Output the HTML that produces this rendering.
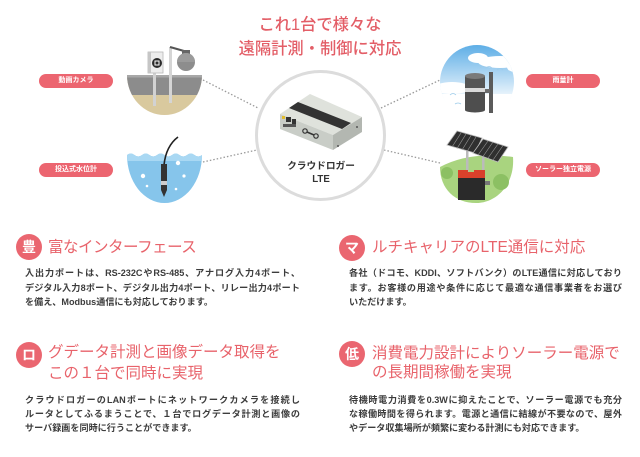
<!DOCTYPE html>
<html lang="ja"><head><meta charset="utf-8">
<style>
*{margin:0;padding:0;box-sizing:border-box}
body{width:640px;height:457px;background:#fff;position:relative;overflow:hidden;font-family:"Liberation Sans","Noto Sans CJK JP",sans-serif}
svg{position:absolute;left:0;top:0}
.t{position:absolute;left:0;width:640px;color:#e35e67;font-size:16.3px;line-height:22px;text-align:center;font-weight:500;white-space:nowrap}
.pill{position:absolute;width:74px;height:14px;border-radius:7px;background:#ec6570;color:#fff;font-size:7px;font-weight:bold;line-height:14px;text-align:center;white-space:nowrap}
.b{position:absolute;width:26px;height:26px;border-radius:50%;background:#ea6670;color:#fff;font-size:14px;font-weight:bold;line-height:26px;text-align:center}
.h{position:absolute;color:#e8636b;font-size:15.5px;line-height:20px;white-space:nowrap}
.p{position:absolute;color:#3c3c3c;font-size:9.1px;font-weight:bold;line-height:14px;height:14px}
.j{text-align:justify;text-align-last:justify}
.n{white-space:nowrap}
.cap{position:absolute;left:271px;width:100px;text-align:center;color:#333;font-size:9.7px;font-weight:bold;line-height:13px;white-space:nowrap}
</style></head><body>
<svg width="640" height="457" viewBox="0 0 640 457">
<defs>
<clipPath id="cc"><path d="M127,75H202A37.5,40 0 0 1 127,75Z"/></clipPath>
<clipPath id="wc"><path d="M127,155 Q130.75,152 134.5,155 T142,155 T149.5,155 T157,155 T164.5,155 T172,155 T179.5,155 T187,155 T194.5,155 T202,155 A37.5,48 0 0 1 127,155Z"/></clipPath>
<linearGradient id="sky" x1="0" y1="0" x2="0" y2="1"><stop offset="0" stop-color="#5eaee6"/><stop offset="0.5" stop-color="#c4e1f6"/><stop offset="0.78" stop-color="#fff"/></linearGradient>
<clipPath id="skc"><circle cx="477" cy="82" r="37"/></clipPath>
</defs>
<!-- dotted connectors -->
<g stroke="#9a9a9a" stroke-width="1.3" stroke-dasharray="1.5 2" fill="none">
<line x1="203" y1="80" x2="258" y2="108"/>
<line x1="203" y1="162" x2="257" y2="150"/>
<line x1="381" y1="108" x2="440" y2="80"/>
<line x1="384" y1="150" x2="440" y2="163"/>
</g>
<!-- center circle -->
<circle cx="320.5" cy="135.5" r="64" fill="#fff" stroke="#dcdcdc" stroke-width="3"/>
<!-- device -->
<polygon points="280,114 310,94 362,117 333,135" fill="#dfe2dc"/>
<polygon points="280,114 333,135 333,150 280,129" fill="#c9cdc7"/>
<polygon points="333,135 362,117 362,132 333,150" fill="#b3b7b1"/>
<polygon points="289,108 298,102 351,123 342,129" fill="#333"/>
<rect x="282" y="116" width="3" height="3" fill="#e2bd2e"/>
<rect x="286" y="117" width="5" height="5" fill="#333"/>
<rect x="292" y="119" width="4" height="5" fill="#333"/>
<rect x="283" y="124" width="13" height="3" fill="#555"/>
<circle cx="305" cy="131" r="2.2" fill="none" stroke="#333" stroke-width="1.2"/>
<line x1="307" y1="132" x2="314" y2="135" stroke="#333" stroke-width="1.5"/>
<circle cx="316" cy="136" r="2.2" fill="none" stroke="#333" stroke-width="1.2"/>
<circle cx="357" cy="127" r="1" fill="#555"/>
<circle cx="338" cy="146" r="1" fill="#555"/>
<!-- camera -->
<path d="M127,75H202A37.5,40 0 0 1 127,75Z" fill="#d9c99e"/>
<rect x="127" y="75" width="75" height="20" fill="#8c8c8c" clip-path="url(#cc)"/>
<rect x="127" y="75" width="75" height="2.5" fill="#a8a8a8"/>
<rect x="153" y="73" width="3" height="33" fill="#d2d2d2"/>
<rect x="148" y="52" width="15" height="21" fill="#ededed" stroke="#b8b8b8" stroke-width="0.8"/>
<rect x="148" y="52" width="3" height="21" fill="#c6c6c6"/>
<circle cx="157" cy="63" r="5" fill="#2b2b2b"/>
<rect x="155" y="61" width="4" height="4" fill="none" stroke="#fff" stroke-width="1"/>
<rect x="169" y="47" width="3" height="56" fill="#d5d5d5"/>
<line x1="170" y1="47" x2="184" y2="51" stroke="#555" stroke-width="2"/>
<rect x="182" y="50" width="8" height="4" fill="#666"/>
<circle cx="186" cy="62" r="9" fill="#8d8d8d"/>
<path d="M177,62 A9,9 0 0 1 195,62Z" fill="#9b9b9b"/>
<!-- water -->
<g clip-path="url(#wc)">
<rect x="120" y="148" width="90" height="60" fill="#86c5eb"/>
<rect x="120" y="148" width="90" height="13" fill="#a9d8f3"/>
</g>
<g fill="#fff">
<circle cx="143" cy="176" r="2.2"/><circle cx="178" cy="163" r="2.2"/><circle cx="184" cy="176" r="1.6"/><circle cx="147" cy="186" r="1.3"/><circle cx="176" cy="189" r="1.3"/>
</g>
<path d="M178,137 Q166,146 164,165" stroke="#222" stroke-width="1.6" fill="none"/>
<rect x="161" y="164" width="6" height="26" fill="#333"/>
<rect x="161" y="181" width="6" height="4" fill="#ccc"/>
<polygon points="161,190 167,190 164,197" fill="#333"/>
<!-- sky / rain gauge -->
<circle cx="477" cy="82" r="37" fill="url(#sky)"/>
<g clip-path="url(#skc)" fill="#fff">
<ellipse cx="500" cy="62" rx="22" ry="6"/>
<ellipse cx="478" cy="58" rx="10" ry="5"/>
<ellipse cx="515" cy="67" rx="8" ry="5"/>
<ellipse cx="452" cy="88" rx="18" ry="6"/>
<rect x="438" y="94" width="80" height="30"/>
</g>
<g stroke="#9ccbea" stroke-width="0.8" fill="none">
<path d="M480,68 q3,-3 6,0 q3,-3 6,0"/><path d="M497,70 q3,-3 6,0"/><path d="M450,95 q3,-3 6,0"/><path d="M455,104 q3,-2 6,0"/>
</g>
<rect x="489" y="72" width="4" height="41" fill="#5b5b5b"/>
<rect x="484" y="89" width="6" height="4" fill="#6b6b6b"/>
<rect x="465" y="76" width="20" height="13" fill="#555"/>
<ellipse cx="475" cy="76" rx="10" ry="3" fill="#7a7a7a"/>
<rect x="465" y="88" width="20" height="4" fill="#d9d9d9"/>
<rect x="465" y="92" width="20" height="18" fill="#4e4e4e"/>
<ellipse cx="475" cy="110" rx="10" ry="2.5" fill="#4e4e4e"/>
<!-- solar -->
<path d="M440,167 Q470,151 513,157 C515,185 496,203 476,203 C455,203 440,189 440,167Z" fill="#a9d47f"/>
<circle cx="447" cy="173" r="6" fill="#8cc063"/>
<circle cx="501" cy="182" r="8" fill="#8cc063"/>
<rect x="466" y="150" width="2.5" height="22" fill="#bbb"/>
<rect x="482" y="157" width="2.5" height="15" fill="#bbb"/>
<polygon points="447,145 457,131 482,138 475,153" fill="#2f2f2f" stroke="#bbb" stroke-width="0.8"/>
<polygon points="473,153 483,139 508,147 498,162" fill="#2f2f2f" stroke="#bbb" stroke-width="0.8"/>
<g stroke="#9a9a9a" stroke-width="0.6">
<line x1="452" y1="147" x2="461" y2="133"/><line x1="457" y1="148.5" x2="466" y2="134"/><line x1="462" y1="150" x2="471" y2="135.5"/><line x1="467" y1="151.5" x2="476" y2="137"/>
<line x1="478" y1="155" x2="488" y2="141"/><line x1="483" y1="156.5" x2="493" y2="142"/><line x1="488" y1="158" x2="498" y2="144"/><line x1="493" y1="160" x2="503" y2="145.5"/>
</g>
<rect x="458" y="178" width="27" height="22" fill="#2a2a2a"/>
<polygon points="458,170 468,170 468,172 474,172 474,170 485,170 485,178 458,178" fill="#d9412b"/>
<rect x="485" y="181" width="5" height="4" fill="#777"/>
</svg>

<div class="t" style="top:14px">これ1台で様々な</div>
<div class="t" style="top:38px">遠隔計測・制御に対応</div>

<div class="pill" style="left:39px;top:74px">動画カメラ</div>
<div class="pill" style="left:39px;top:163px">投込式水位計</div>
<div class="pill" style="left:526px;top:74px">雨量計</div>
<div class="pill" style="left:526px;top:163px">ソーラー独立電源</div>

<div class="cap" style="top:160px">クラウドロガー</div>
<div class="cap" style="top:173px">LTE</div>

<div class="b" style="left:16px;top:234px">豊</div>
<div class="h" style="left:48px;top:238px;letter-spacing:-0.5px">富なインターフェース</div>
<div class="p j" style="left:25px;top:266px;width:275px">入出力ポートは、RS-232CやRS-485、アナログ入力4ポート、</div>
<div class="p j" style="left:25px;top:281px;width:275px">デジタル入力8ポート、デジタル出力4ポート、リレー出力4ポート</div>
<div class="p n" style="left:25px;top:295px">を備え、Modbus通信にも対応しております。</div>

<div class="b" style="left:16px;top:342px">ロ</div>
<div class="h" style="left:48px;top:343px">グデータ計測と画像データ取得を</div>
<div class="h" style="left:48px;top:364px">この１台で同時に実現</div>
<div class="p j" style="left:25px;top:393px;width:275px">クラウドロガーのLANポートにネットワークカメラを接続し</div>
<div class="p j" style="left:25px;top:407px;width:275px">ルータとしてふるまうことで、１台でログデータ計測と画像の</div>
<div class="p n" style="left:25px;top:421px">サーバ録画を同時に行うことができます。</div>

<div class="b" style="left:339px;top:235px">マ</div>
<div class="h" style="left:372px;top:238px">ルチキャリアのLTE通信に対応</div>
<div class="p j" style="left:349px;top:266px;width:273px">各社（ドコモ、KDDI、ソフトバンク）のLTE通信に対応しており</div>
<div class="p j" style="left:349px;top:281px;width:273px">ます。お客様の用途や条件に応じて最適な通信事業者をお選び</div>
<div class="p n" style="left:349px;top:295px">いただけます。</div>

<div class="b" style="left:339px;top:341px">低</div>
<div class="h" style="left:372px;top:344px">消費電力設計によりソーラー電源で</div>
<div class="h" style="left:372px;top:363px">の長期間稼働を実現</div>
<div class="p j" style="left:349px;top:393px;width:273px">待機時電力消費を0.3Wに抑えたことで、ソーラー電源でも充分</div>
<div class="p j" style="left:349px;top:407px;width:273px">な稼働時間を得られます。電源と通信に結線が不要なので、屋外</div>
<div class="p n" style="left:349px;top:421px">やデータ収集場所が頻繁に変わる計測にも対応できます。</div>
</body></html>
